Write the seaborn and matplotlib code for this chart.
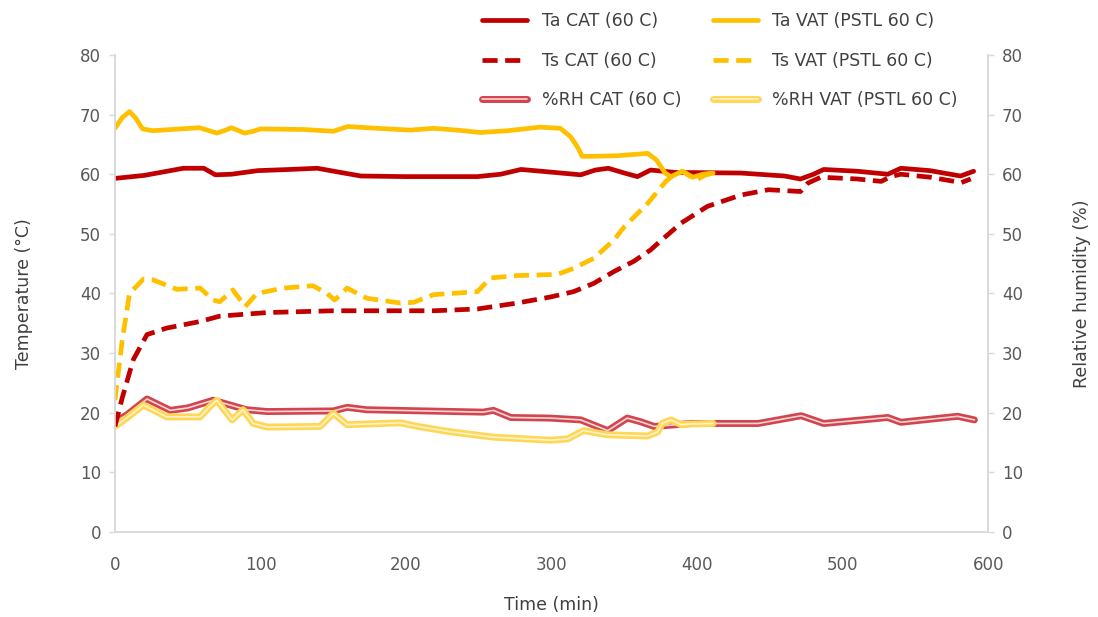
import matplotlib
matplotlib.use("Agg")
import matplotlib.pyplot as plt
import matplotlib.patheffects as pe
import seaborn as sns
import pandas as pd

# ---- data ----
t_ta_cat = [0, 20, 47, 61, 69, 80, 98, 120, 139, 155, 169, 200, 249, 265, 279, 293, 320, 330, 339,
            350, 359, 368, 385, 430, 460, 471, 480, 487, 510, 531, 540, 560, 581, 590]
ta_cat = [59.3, 59.8, 61.0, 61.0, 59.9, 60.0, 60.6, 60.8, 61.0, 60.3, 59.7, 59.6, 59.6, 60.0, 60.8,
          60.5, 59.9, 60.7, 61.0, 60.2, 59.6, 60.7, 60.3, 60.2, 59.7, 59.2, 60.0, 60.8, 60.5, 60.0,
          61.0, 60.6, 59.7, 60.5]

t_ta_vat = [0, 5, 10, 14, 19, 26, 45, 58, 70, 75, 80, 89, 95, 100, 130, 150, 160, 180, 203, 219,
            235, 251, 270, 292, 306, 313, 318, 321, 327, 345, 366, 372, 378, 382, 390, 397, 404, 411]
ta_vat = [67.7, 69.5, 70.5, 69.5, 67.6, 67.3, 67.6, 67.8, 66.9, 67.3, 67.8, 66.9, 67.2, 67.6, 67.5,
          67.2, 68.0, 67.7, 67.4, 67.7, 67.4, 67.0, 67.3, 67.9, 67.7, 66.3, 64.5, 63.0, 63.0, 63.1,
          63.5, 62.4, 60.2, 59.6, 60.5, 59.5, 60.0, 60.2]

t_ts_cat = [0, 5, 12.6, 22, 35.6, 58.5, 72, 104.5, 150, 219, 249, 276.5, 299, 315, 329, 343, 356.5,
            368, 373, 389, 407, 430, 449, 471, 476, 485, 510, 526.5, 533, 540, 560, 581.5, 588]
ts_cat = [17.7, 22.5, 28.9, 33.1, 34.2, 35.3, 36.2, 36.8, 37.1, 37.1, 37.4, 38.4, 39.4, 40.3, 41.7,
          43.7, 45.4, 47.3, 48.4, 51.8, 54.6, 56.5, 57.4, 57.1, 58.5, 59.5, 59.2, 58.8, 59.6, 60.0,
          59.5, 58.6, 59.2]

t_ts_vat = [0, 5, 10, 19.5, 26, 42.5, 58.5, 67.5, 72, 81, 89.5, 97.5, 115.6, 136, 145.7, 151, 159.5,
            173, 196, 205, 219, 249, 258, 276.5, 304, 315, 329, 343, 350, 366, 378.5, 384, 390, 396,
            400, 405, 411]
ts_vat = [22.1, 32.2, 40.0, 42.4, 42.3, 40.7, 40.9, 38.9, 38.6, 40.6, 37.8, 40.0, 40.9, 41.3, 40.0,
          38.9, 40.9, 39.2, 38.4, 38.5, 39.8, 40.3, 42.6, 43.0, 43.2, 44.2, 45.9, 49.0, 51.2, 55.1,
          58.8, 59.9, 60.5, 59.5, 59.1, 59.8, 60.2]

t_rh_cat = [0, 8, 22, 38, 50, 67.5, 90.5, 104.5, 150, 159.5, 173, 253, 260, 272, 299, 320, 338.6,
            352, 361, 370.5, 396, 442, 471.5, 487, 531, 540, 579, 590.5]
rh_cat = [18.5, 19.6, 22.3, 20.4, 20.8, 22.1, 20.5, 20.2, 20.3, 20.9, 20.5, 20.1, 20.4, 19.2, 19.1,
          18.8, 17.0, 19.1, 18.5, 17.7, 18.2, 18.2, 19.5, 18.2, 19.2, 18.4, 19.4, 18.8]

t_rh_vat = [0, 8, 19.5, 35.6, 58.5, 65, 70, 75, 80.5, 88, 95, 104.5, 141, 150, 159.5, 196, 208,
            230.6, 260, 299, 311, 322, 338.6, 366, 373, 376, 382, 389, 395, 411]
rh_vat = [17.7, 19.1, 21.3, 19.3, 19.3, 21.0, 22.1, 20.5, 18.8, 20.5, 18.2, 17.6, 17.7, 19.9, 18.0,
          18.3, 17.7, 16.8, 15.9, 15.4, 15.6, 17.0, 16.3, 16.1, 16.8, 18.2, 18.8, 18.0, 18.1, 18.2]

labels = ["Ta CAT (60 C)", "Ts CAT (60 C)", "%RH CAT (60 C)",
          "Ta VAT (PSTL 60 C)", "Ts VAT (PSTL 60 C)", "%RH VAT (PSTL 60 C)"]
x_ticks = [0, 100, 200, 300, 400, 500, 600]
y_ticks = [0, 10, 20, 30, 40, 50, 60, 70, 80]

# ---- style ----
sns.set_theme(style="white")
plt.rcParams["font.family"] = ["DejaVu Sans"]
DARK_RED = "#C00000"
GOLD = "#FFC000"
GRID = "#D9D9D9"
TXT = "#595959"

fig = plt.figure(figsize=(10.98, 6.17), dpi=100)
ax = fig.add_axes([0.1047, 0.1378, 0.7953, 0.7731])
ax2 = ax.twinx()

lw = 3.4
sns.lineplot(x=t_rh_cat, y=rh_cat, ax=ax2, color="#F8D7D7", linewidth=1.2, estimator=None,
             sort=False, label=labels[2],
             path_effects=[pe.Stroke(linewidth=5.0, foreground="#D2444E"), pe.Normal()])
sns.lineplot(x=t_rh_vat, y=rh_vat, ax=ax2, color="#FFF3CC", linewidth=1.2, estimator=None,
             sort=False, label=labels[5],
             path_effects=[pe.Stroke(linewidth=5.0, foreground="#FFD757"), pe.Normal()])

sns.lineplot(x=t_ta_cat, y=ta_cat, ax=ax, color=DARK_RED, linewidth=lw, estimator=None,
             sort=False, label=labels[0])
sns.lineplot(x=t_ts_cat, y=ts_cat, ax=ax, color=DARK_RED, linewidth=lw, estimator=None,
             sort=False, label=labels[1])
sns.lineplot(x=t_ta_vat, y=ta_vat, ax=ax, color=GOLD, linewidth=lw, estimator=None,
             sort=False, label=labels[3])
sns.lineplot(x=t_ts_vat, y=ts_vat, ax=ax, color=GOLD, linewidth=lw, estimator=None,
             sort=False, label=labels[4])
lines = ax.get_lines()
lines[1].set_dashes([3.2, 1.6])
lines[3].set_dashes([3.2, 1.6])

ax.set_zorder(ax2.get_zorder() + 1)
ax.patch.set_visible(False)

for a in (ax, ax2):
    a.set_xlim(0, 600)
    a.set_ylim(0, 80)
    a.set_yticks(y_ticks)
    for s in a.spines.values():
        s.set_color(GRID)
        s.set_linewidth(1.2)
    a.spines["top"].set_visible(False)
    a.tick_params(axis="both", colors=GRID, labelcolor=TXT, labelsize=12, length=4,
                  width=1.0, direction="out")
ax.set_xticks(x_ticks)
ax.tick_params(axis="y", pad=6)
ax2.tick_params(axis="y", pad=6)
ax.tick_params(axis="x", pad=13)
ax.set_xlabel("Time (min)", fontsize=12.5, color="#404040", labelpad=16)
ax.set_ylabel("Temperature (°C)", fontsize=12.5, color="#404040", labelpad=34)
ax2.set_ylabel("Relative humidity (%)", fontsize=12.5, color="#404040", labelpad=36)

h1, l1 = ax.get_legend_handles_labels()
h2, l2 = ax2.get_legend_handles_labels()
hmap = dict(zip(l1 + l2, h1 + h2))
if ax2.get_legend():
    ax2.get_legend().remove()
if ax.get_legend():
    ax.get_legend().remove()
fig.legend([hmap[l] for l in labels], labels, ncol=2, loc="upper left",
           bbox_to_anchor=(0.4247, 1.006), frameon=False, fontsize=12.5,
           labelcolor="#404040", handlelength=2.6, columnspacing=1.8,
           labelspacing=1.25, handletextpad=0.85)

fig.savefig("out.png", dpi=100, facecolor="white")
